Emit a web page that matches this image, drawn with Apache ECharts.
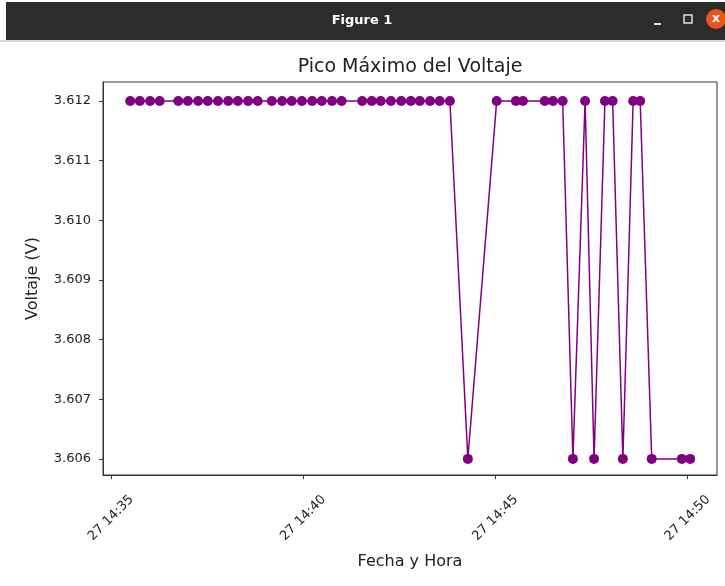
<!DOCTYPE html>
<html>
<head>
<meta charset="utf-8">
<script src="https://cdn.jsdelivr.net/npm/echarts@6/dist/echarts.min.js"></script>
<style>
html,body{margin:0;padding:0;background:#fff;}
#c{width:725px;height:586px;}
</style>
</head>
<body>
<div id="c"></div>
<script>
// Sample times (27th, 14:xx:ss) and peak voltage readings
const times = [
  '14:35:30','14:35:45','14:36:01','14:36:16',
  '14:36:45','14:37:00','14:37:16','14:37:31','14:37:47','14:38:03','14:38:18','14:38:34','14:38:49',
  '14:39:11','14:39:27','14:39:42','14:39:58','14:40:14','14:40:29','14:40:45','14:41:00',
  '14:41:32','14:41:47','14:42:01','14:42:17','14:42:33','14:42:48','14:43:02','14:43:18','14:43:33','14:43:49',
  '14:44:17','14:45:02','14:45:32','14:45:43','14:46:17','14:46:30','14:46:45',
  '14:47:01','14:47:20','14:47:34','14:47:51','14:48:03','14:48:19','14:48:35','14:48:46',
  '14:49:04','14:49:51','14:50:04'
];
const voltages = [
  3.612,3.612,3.612,3.612,
  3.612,3.612,3.612,3.612,3.612,3.612,3.612,3.612,3.612,
  3.612,3.612,3.612,3.612,3.612,3.612,3.612,3.612,
  3.612,3.612,3.612,3.612,3.612,3.612,3.612,3.612,3.612,3.612,
  3.606,3.612,3.612,3.612,3.612,3.612,3.612,
  3.606,3.612,3.606,3.612,3.612,3.606,3.612,3.612,
  3.606,3.606,3.606
];
const xTickTimes = ['14:35','14:40','14:45','14:50'];
const xTickLabels = ['27 14:35','27 14:40','27 14:45','27 14:50'];
const yTicks = [3.606,3.607,3.608,3.609,3.610,3.611,3.612];

function toMinutes(t){
  const p = t.split(':').map(Number);
  return (p[0]-14)*60 + p[1] + (p[2]||0)/60;
}
const xTickVals = xTickTimes.map(toMinutes);
const data = times.map((t,i)=>[toMinutes(t), voltages[i]]);

const FONT = 'DejaVu Sans';
const TXT = '#222';
const chart = echarts.init(document.getElementById('c'), null, {renderer:'canvas'});
chart.setOption({
  animation:false,
  backgroundColor:'#ffffff',
  title:{
    text:'Pico Máximo del Voltaje',
    left:405, top:53, textAlign:'center',
    textStyle:{fontFamily:FONT,fontSize:19,fontWeight:'normal',color:TXT}
  },
  grid:{left:103,right:8,top:82,bottom:111,show:true,borderColor:'#333',borderWidth:1,backgroundColor:'transparent'},
  xAxis:{
    type:'value', min:34.792, max:50.765,
    name:'Fecha y Hora', nameLocation:'middle', nameGap:79,
    nameTextStyle:{fontFamily:FONT,fontSize:16,color:TXT},
    axisLine:{show:true,lineStyle:{color:'#333',width:1}},
    splitLine:{show:false},
    axisTick:{show:true,length:4,customValues:xTickVals,lineStyle:{color:'#333'}},
    axisLabel:{
      customValues:xTickVals, rotate:45, margin:43, align:'center', verticalAlign:'middle',
      fontFamily:FONT,fontSize:13,color:TXT,
      formatter:(v)=>{ const i = xTickVals.findIndex(x=>Math.abs(x-v)<1e-6); return i>=0?xTickLabels[i]:''; }
    }
  },
  yAxis:{
    type:'value', min:3.60573, max:3.61232,
    name:'Voltaje (V)', nameLocation:'middle', nameGap:62,
    nameTextStyle:{fontFamily:FONT,fontSize:16,color:TXT},
    axisLine:{show:true,lineStyle:{color:'#333',width:1}},
    splitLine:{show:false},
    axisTick:{show:true,length:4,customValues:yTicks,lineStyle:{color:'#333'}},
    axisLabel:{customValues:yTicks,margin:12,fontFamily:FONT,fontSize:13,color:TXT,
      formatter:(v)=>v.toFixed(3)}
  },
  series:[{
    type:'line', data:data,
    symbol:'circle', symbolSize:10,
    lineStyle:{color:'#800080',width:1.5},
    itemStyle:{color:'#800080'}
  }],
  graphic:[
    {type:'rect',shape:{x:6,y:2,width:719,height:38},style:{fill:'#2c2c2c'},z:100},
    {type:'rect',shape:{x:0,y:40,width:725,height:2},style:{fill:'#d8d8d8'},z:100},
    {type:'text',x:362,y:21,style:{text:'Figure 1',fill:'#ffffff',font:'bold 13px "DejaVu Sans"',align:'center',verticalAlign:'middle'},z:101},
    {type:'rect',shape:{x:654,y:23,width:7,height:2},style:{fill:'#e0e0e0'},z:101},
    {type:'rect',shape:{x:684,y:15,width:8,height:8},style:{fill:'none',stroke:'#e0e0e0',lineWidth:1.5},z:101},
    {type:'circle',shape:{cx:716,cy:19,r:10},style:{fill:'#e9541f'},z:101},
    {type:'text',x:716,y:19,style:{text:'x',fill:'#ffffff',font:'bold 13px "DejaVu Sans"',align:'center',verticalAlign:'middle'},z:102}
  ]
});
</script>
</body>
</html>
